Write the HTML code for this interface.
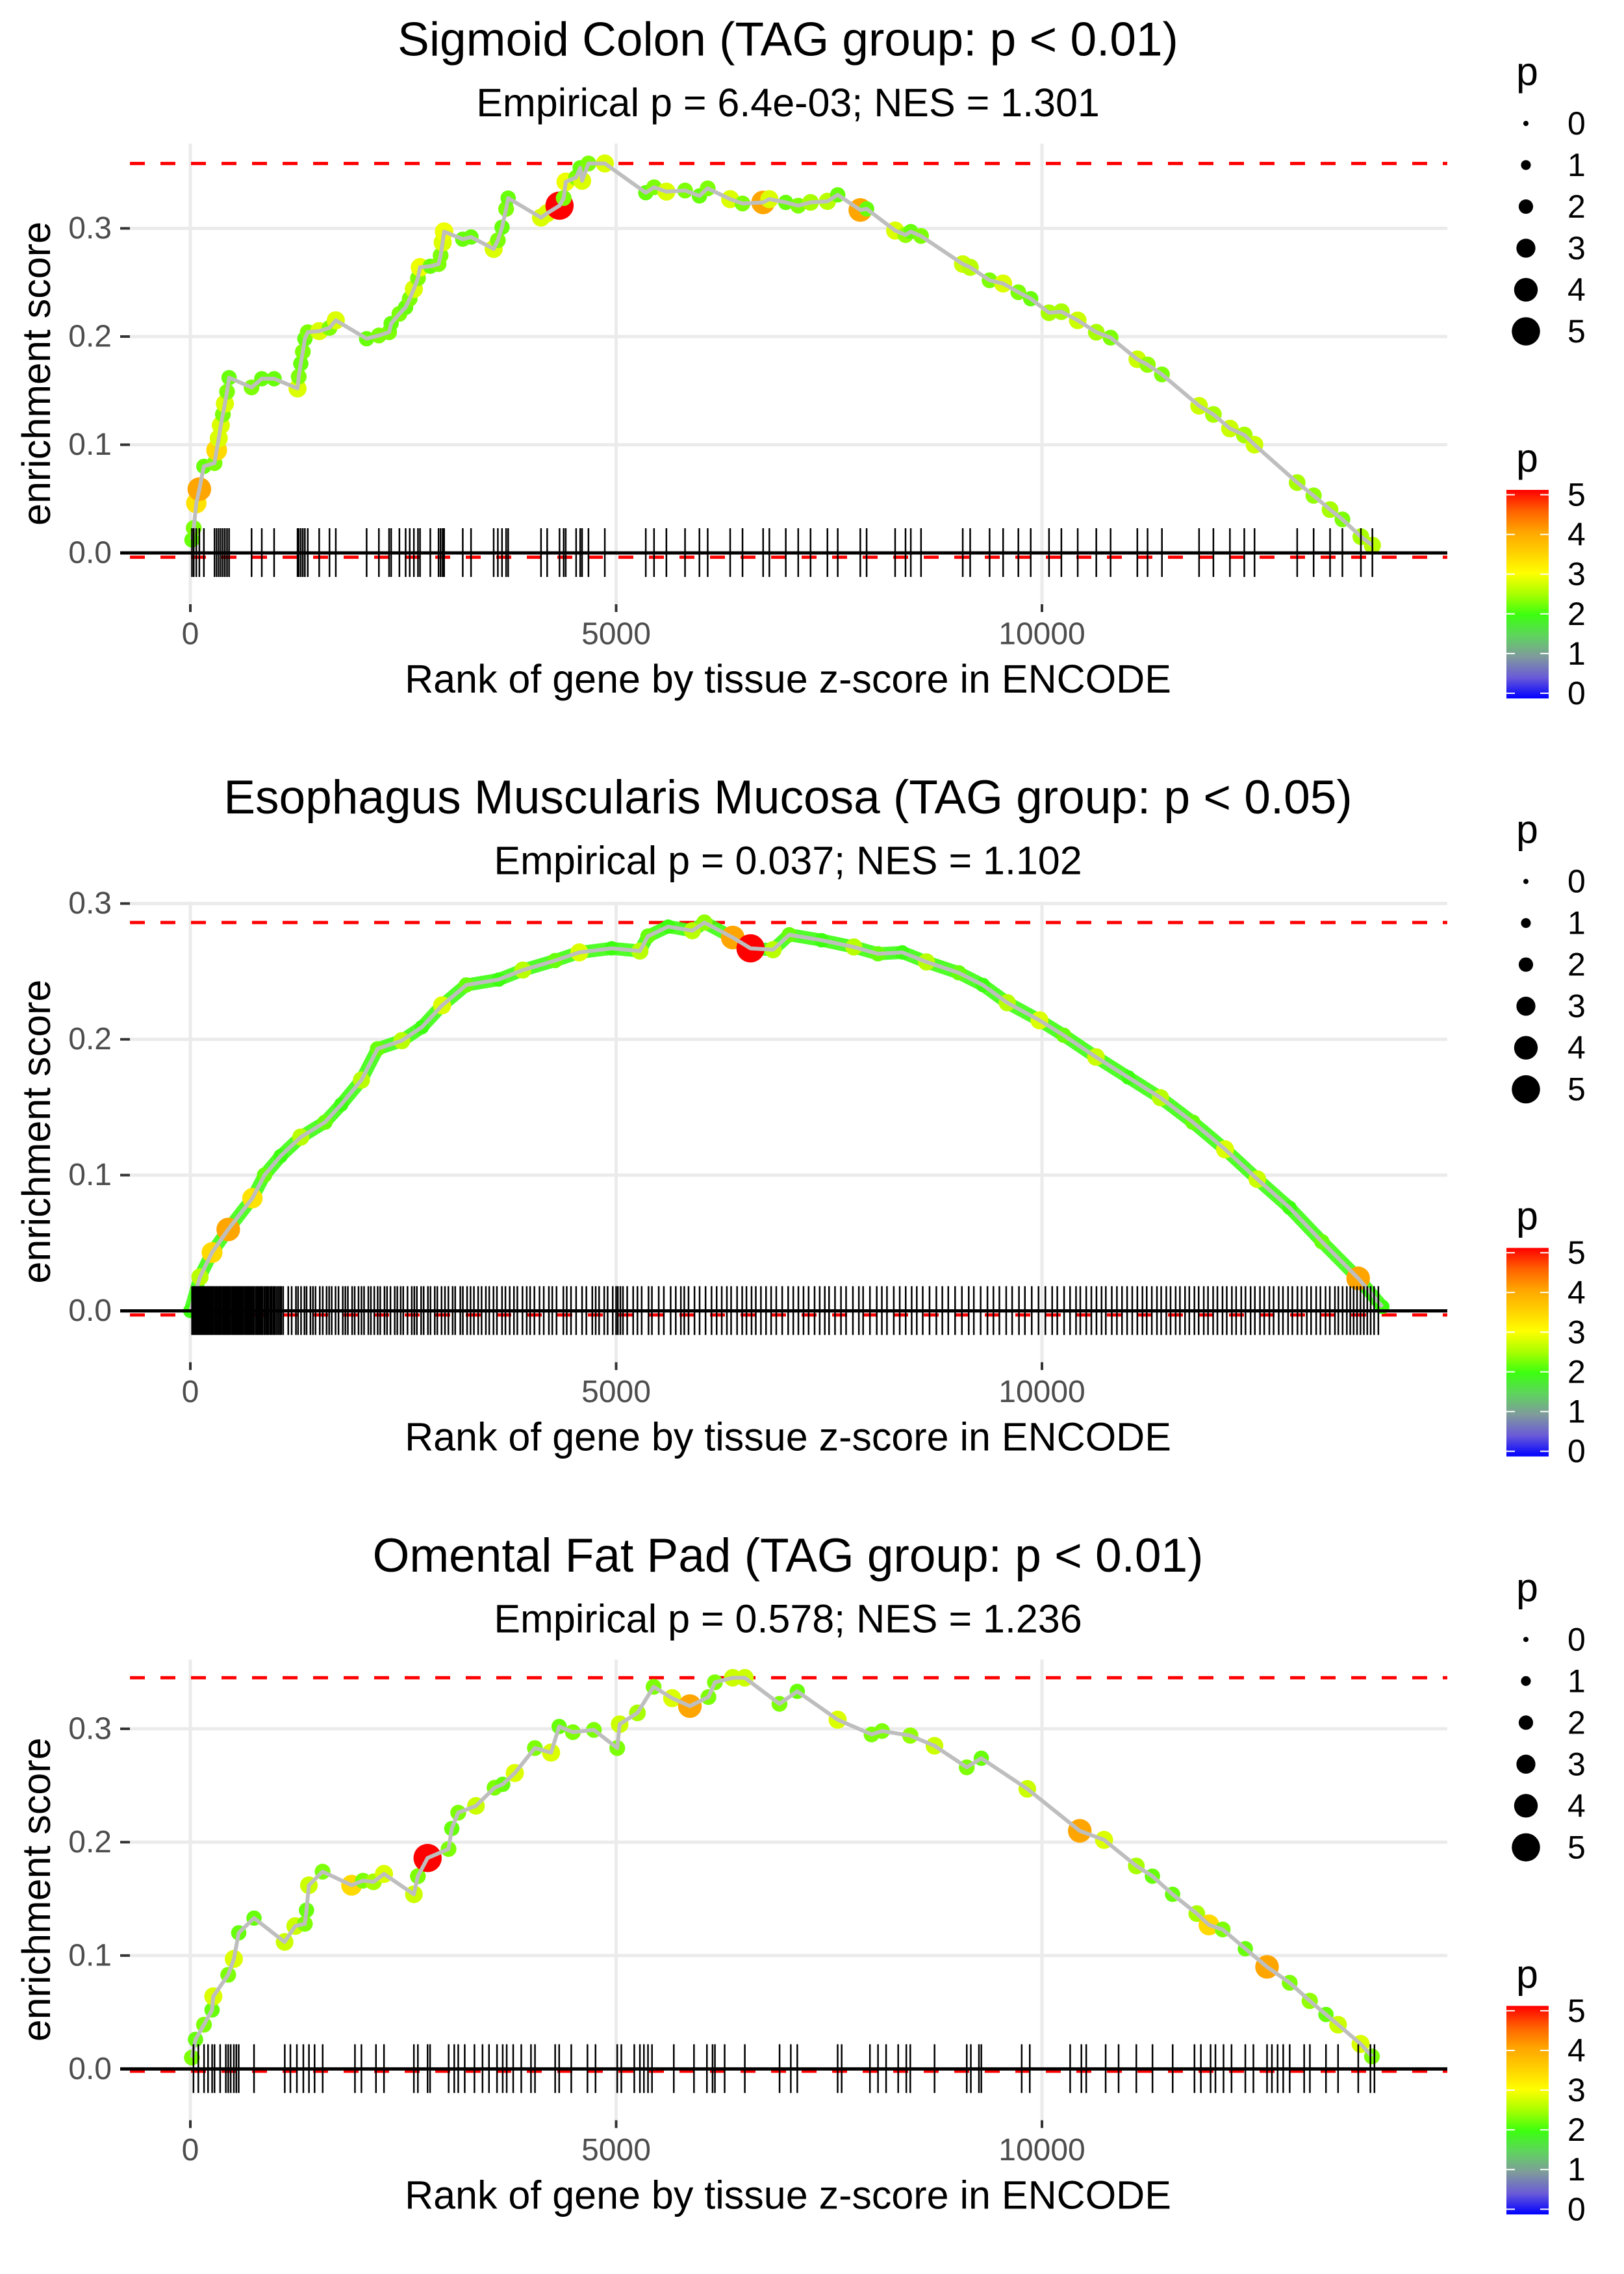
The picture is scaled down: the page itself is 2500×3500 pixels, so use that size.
<!DOCTYPE html>
<html><head><meta charset="utf-8"><title>Enrichment plots</title>
<style>
html,body{margin:0;padding:0;background:#fff;}
svg{display:block;font-family:"Liberation Sans",sans-serif;}
</style></head>
<body>
<svg id="chart" width="2500" height="3500" viewBox="0 0 2500 3500" xmlns="http://www.w3.org/2000/svg">
<defs>
<linearGradient id="pgrad" x1="0" y1="1" x2="0" y2="0">
<stop offset="0" stop-color="#0000ff"/>
<stop offset="0.1" stop-color="#6a5ad8"/>
<stop offset="0.2" stop-color="#7f9a9c"/>
<stop offset="0.3" stop-color="#5fd35f"/>
<stop offset="0.4" stop-color="#3cff10"/>
<stop offset="0.5" stop-color="#a8ff00"/>
<stop offset="0.6" stop-color="#ffff00"/>
<stop offset="0.7" stop-color="#ffd000"/>
<stop offset="0.8" stop-color="#ffa500"/>
<stop offset="0.9" stop-color="#ff6000"/>
<stop offset="1" stop-color="#ff0000"/>
</linearGradient>
</defs>
</svg>
<script>
// ---------- Panel 1 data: Sigmoid Colon ----------
const p1Rank = [19,40,70,106,159,284,309,334,358,382,406,431,455,719,839,984,1259,1273,1297,1321,1345,1379,1513,1634,1708,2070,2214,2334,2358,2455,2528,2576,2625,2673,2697,2818,2915,2939,2963,2980,3199,3296,3562,3611,3660,3708,3732,4118,4190,4335,4384,4408,4530,4578,4600,4675,4867,5348,5445,5590,5809,5978,6075,6339,6484,6726,6799,6992,7138,7283,7481,7602,7867,7941,8276,8398,8460,8580,9070,9157,9385,9544,9723,9868,10083,10228,10420,10638,10806,11120,11240,11409,11845,12013,12207,12376,12496,12997,13190,13383,13528,13745,13880];
const p1ES = [.012,.023,.046,.059,.080,.083,.095,.106,.118,.128,.138,.149,.162,.153,.161,.161,.152,.163,.175,.186,.198,.204,.205,.208,.215,.198,.201,.204,.212,.221,.227,.235,.244,.254,.264,.265,.267,.275,.287,.297,.290,.292,.281,.289,.301,.318,.328,.310,.314,.321,.328,.343,.347,.356,.344,.360,.360,.333,.338,.334,.335,.330,.337,.327,.323,.324,.327,.324,.321,.324,.325,.331,.317,.318,.298,.294,.297,.293,.267,.264,.252,.249,.241,.235,.222,.223,.215,.204,.199,.179,.174,.165,.136,.128,.115,.109,.100,.065,.053,.040,.031,.015,.007];
const p1P = [2.2,2.3,3.3,4.0,2.2,2.3,3.4,2.8,2.8,2.3,2.8,2.3,2.2,2.3,2.2,2.2,2.8,2.3,2.2,2.3,2.2,2.3,2.8,2.3,2.8,2.2,2.3,2.3,2.2,2.3,2.2,2.3,2.8,2.3,2.9,2.2,2.3,2.3,2.8,2.9,2.2,2.2,2.8,2.3,2.2,2.3,2.2,2.8,2.8,5.0,2.3,2.9,2.3,2.2,2.8,2.3,2.8,2.2,2.3,2.8,2.3,2.2,2.3,2.8,2.3,4.0,2.8,2.2,2.3,2.5,2.6,2.2,4.0,2.2,2.8,2.4,2.2,2.3,2.7,2.6,2.3,2.8,2.3,2.2,2.5,2.5,2.7,2.5,2.3,2.7,2.4,2.3,2.7,2.5,2.7,2.5,2.7,2.5,2.4,2.5,2.3,2.5,2.6];
const p1Rug = p1Rank;

// ---------- Panel 2 data: Esophagus Muscularis Mucosa ----------
const p2Rank = [0,113,255,445,729,871,1060,1297,1582,1772,2009,2198,2483,2719,2956,3240,3620,3904,4283,4568,4947,5279,5374,5611,5895,6037,6369,6578,6843,7033,7412,7791,8075,8359,8644,9023,9307,9592,9971,10255,10634,11013,11392,11771,12150,12529,12908,13287,13713,13997];
const p2ES = [0,.025,.043,.060,.083,.100,.114,.128,.139,.152,.170,.193,.199,.209,.225,.240,.244,.251,.258,.264,.267,.265,.276,.283,.280,.286,.275,.267,.266,.277,.273,.268,.263,.264,.257,.249,.240,.227,.214,.203,.187,.172,.157,.139,.119,.097,.076,.051,.024,.003];
const p2P = [2.0,2.6,3.4,4.0,3.3,2.2,2.0,2.6,2.2,2.0,2.6,2.2,2.6,2.0,2.8,2.2,2.0,2.6,2.2,2.8,2.0,2.6,2.2,2.0,2.6,2.4,4.0,5.0,2.6,2.2,2.0,2.6,2.2,2.0,2.6,2.2,2.0,2.6,2.8,2.2,2.7,2.0,2.6,2.2,2.8,2.7,2.0,2.2,4.0,2.0];
const p2Rug = [20,35,48,60,75,88,102,118,130,145,160,172,188,200,215,230,245,258,272,290,305,318,335,350,362,380,395,410,425,440,455,470,488,500,515,532,548,560,575,590,605,622,640,655,670,688,700,718,735,750,770,785,800,818,835,850,870,888,905,920,940,955,975,990,1010,1030,1050,1068,1090,1150,1190,1240,1265,1300,1340,1365,1410,1440,1470,1520,1555,1600,1630,1660,1705,1740,1790,1820,1850,1900,1930,1975,2010,2040,2090,2120,2160,2200,2230,2280,2310,2350,2400,2430,2470,2500,2550,2600,2630,2660,2710,2740,2790,2820,2870,2900,2950,2990,3030,3080,3110,3170,3200,3250,3290,3330,3380,3420,3470,3510,3560,3600,3660,3700,3750,3800,3840,3900,3950,3990,4040,4100,4150,4210,4250,4300,4380,4420,4470,4530,4600,4650,4720,4760,4800,4860,4900,4960,5000,5020,5050,5080,5130,5200,5250,5300,5380,5420,5500,5560,5640,5700,5760,5800,5850,5920,5980,6050,6120,6180,6240,6300,6350,6420,6480,6530,6590,6640,6700,6760,6820,6880,6950,7020,7080,7140,7200,7260,7330,7390,7450,7500,7570,7640,7700,7780,7850,7900,7980,8060,8120,8180,8260,8330,8400,8470,8530,8600,8680,8760,8830,8900,8980,9060,9140,9200,9280,9360,9430,9500,9580,9650,9730,9800,9880,9960,10040,10120,10180,10260,10330,10400,10450,10520,10580,10640,10700,10750,10820,10880,10940,11000,11060,11120,11180,11230,11290,11350,11400,11460,11510,11570,11620,11680,11730,11790,11840,11900,11950,12010,12060,12120,12170,12230,12280,12340,12390,12450,12500,12560,12610,12670,12720,12780,12830,12890,12940,13000,13050,13110,13160,13220,13270,13330,13380,13440,13480,13530,13580,13620,13660,13700,13740,13780,13820,13860,13900,13950];

// ---------- Panel 3 data: Omental Fat Pad ----------
const p3Rank = [18,61,160,255,270,445,511,568,748,1107,1231,1345,1364,1392,1553,1894,2027,2151,2274,2625,2672,2786,3032,3070,3146,3354,3572,3668,3810,4046,4236,4331,4492,4738,5013,5041,5250,5440,5658,5866,6084,6160,6369,6511,6918,7127,7601,7999,8122,8454,8738,9117,9288,9828,10444,10729,11108,11297,11534,11818,11961,12122,12388,12643,12909,13145,13335,13477,13742,13875];
const p3ES = [.010,.026,.039,.052,.064,.083,.097,.120,.133,.112,.126,.128,.140,.162,.174,.162,.166,.165,.172,.154,.170,.186,.194,.212,.226,.232,.248,.251,.261,.283,.279,.302,.297,.299,.283,.304,.314,.337,.327,.320,.328,.341,.345,.345,.322,.333,.308,.295,.298,.294,.285,.266,.274,.247,.210,.202,.179,.170,.154,.137,.127,.123,.106,.090,.076,.060,.048,.039,.022,.011];
const p3P = [2.3,2.2,2.3,2.2,2.8,2.3,2.8,2.2,2.2,2.7,2.7,2.3,2.2,2.7,2.3,3.4,2.3,2.5,2.8,2.7,2.3,5.0,2.3,2.2,2.3,2.7,2.3,2.2,2.8,2.3,2.8,2.2,2.3,2.3,2.3,2.7,2.5,2.3,2.8,4.0,2.3,2.3,2.7,2.7,2.3,2.2,2.8,2.3,2.3,2.4,2.7,2.3,2.2,2.7,4.0,2.8,2.5,2.2,2.2,2.5,3.4,2.3,2.2,4.0,2.3,2.4,2.2,2.7,2.8,2.3];
const p3Rug = [37,94,161,208,256,284,350,417,445,474,511,540,568,748,1109,1175,1251,1327,1393,1459,1554,1933,2009,2180,2274,2625,2672,2786,2815,3033,3099,3146,3222,3336,3431,3507,3601,3668,3715,3791,3886,4000,4047,4284,4331,4473,4663,4758,5013,5061,5213,5279,5326,5374,5421,5677,5914,6066,6132,6160,6274,6511,6919,7051,7127,7601,7648,7980,8075,8170,8312,8407,8454,8739,9117,9165,9260,9288,9762,9857,10331,10463,10520,10748,10900,11108,11298,11535,11791,11866,11980,12037,12132,12226,12388,12483,12643,12700,12767,12833,12909,13079,13146,13335,13477,13714,13857,13904];

const xTicks = [0,5000,10000];
const xTickLabels = ["0","5000","10000"];
const yTicks = [0,0.1,0.2,0.3];
const yTickLabels = ["0.0","0.1","0.2","0.3"];
const legendValues = [0,1,2,3,4,5];

const panels = [
 {title:"Sigmoid Colon (TAG group: p < 0.01)", sub:"Empirical p = 6.4e-03; NES = 1.301", rank:p1Rank, es:p1ES, p:p1P, rug:p1Rug, band:false, minES:-0.004, yPerUnit:1665},
 {title:"Esophagus Muscularis Mucosa (TAG group: p < 0.05)", sub:"Empirical p = 0.037; NES = 1.102", rank:p2Rank, es:p2ES, p:p2P, rug:p2Rug, band:true, minES:-0.003, yPerUnit:2090},
 {title:"Omental Fat Pad (TAG group: p < 0.01)", sub:"Empirical p = 0.578; NES = 1.236", rank:p3Rank, es:p3ES, p:p3P, rug:p3Rug, band:false, minES:-0.002, yPerUnit:1745}
];

const NS="http://www.w3.org/2000/svg";
const svg=document.getElementById('chart');
const PANEL_H=3500/3, PL=200, PR=2228, PT=221, PB=930, Y0=851, CX=1213;
function xs(r){return 293 + r*(1311/10000);}
const cstops=[[0,[0,0,255]],[0.5,[106,90,216]],[1,[127,154,156]],[1.5,[95,211,95]],[2,[60,255,16]],[2.5,[168,255,0]],[3,[255,255,0]],[3.5,[255,208,0]],[4,[255,165,0]],[4.5,[255,96,0]],[5,[255,0,0]]];
function pcol(p){p=Math.max(0,Math.min(5,p));for(let i=0;i<cstops.length-1;i++){const a=cstops[i],b=cstops[i+1];if(p<=b[0]){const t=(p-a[0])/(b[0]-a[0]);const c=a[1].map((v,k)=>Math.round(v+(b[1][k]-v)*t));return `rgb(${c[0]},${c[1]},${c[2]})`;}}return 'red';}
function prad(p){return 4+3.55*p;}
function el(tag,attrs,parent){const e=document.createElementNS(NS,tag);for(const k in attrs)e.setAttribute(k,attrs[k]);(parent||svg).appendChild(e);return e;}
function txt(s,attrs,parent){const e=el('text',attrs,parent);e.textContent=s;return e;}

panels.forEach((P,i)=>{
 const g=el('g',{transform:`translate(0,${i*PANEL_H})`});
 
 
 const ys=v=>Y0 - v*P.yPerUnit;
 const t=txt(P.title,{x:CX,y:61,'font-size':73,'text-anchor':'middle','dominant-baseline':'central',fill:'#000'},g);
 
 
 const st=txt(P.sub,{x:CX,y:158,'font-size':61,'text-anchor':'middle','dominant-baseline':'central',fill:'#000'},g);
 
 
 const grid=el('g',{},g);
 
 
 yTicks.forEach(v=>{el('line',{x1:PL,x2:PR,y1:ys(v),y2:ys(v),stroke:'#ebebeb','stroke-width':5},grid);});
 xTicks.forEach(v=>{el('line',{x1:xs(v),x2:xs(v),y1:PT,y2:PB,stroke:'#ebebeb','stroke-width':5},grid);});
 const yax=el('g',{},g);
 
 
 yTicks.forEach((v,k)=>{
  el('line',{x1:185,x2:200,y1:ys(v),y2:ys(v),stroke:'#333','stroke-width':4},yax);
  const l=txt(yTickLabels[k],{x:172,y:ys(v),'font-size':48,'text-anchor':'end','dominant-baseline':'central',fill:'#4d4d4d'},yax);
  
  
 });
 const yt=txt('enrichment score',{x:0,y:0,'font-size':61,'text-anchor':'middle','dominant-baseline':'central',fill:'#000',transform:`translate(56,575) rotate(-90)`},g);
 
 
 const xax=el('g',{},g);
 
 
 xTicks.forEach((v,k)=>{
  el('line',{x1:xs(v),x2:xs(v),y1:PB,y2:PB+12,stroke:'#333','stroke-width':4},xax);
  const l=txt(xTickLabels[k],{x:xs(v),y:976,'font-size':48,'text-anchor':'middle','dominant-baseline':'central',fill:'#4d4d4d'},xax);
  
  
 });
 const xt=txt('Rank of gene by tissue z-score in ENCODE',{x:CX,y:1045,'font-size':61,'text-anchor':'middle','dominant-baseline':'central',fill:'#000'},g);
 
 
 const maxES=Math.max(...P.es);
 const dl=el('line',{x1:PL,x2:PR,y1:ys(maxES),y2:ys(maxES),stroke:'#ff0000','stroke-width':5,'stroke-dasharray':'23 24'},g);
 
 
 const dl2=el('line',{x1:PL,x2:PR,y1:ys(P.minES),y2:ys(P.minES),stroke:'#ff0000','stroke-width':5,'stroke-dasharray':'23 24'},g);
 
 
 const pts=P.rank.map((r,k)=>xs(r).toFixed(1)+','+ys(P.es[k]).toFixed(1)).join(' ');
 if(P.band){
  const b=el('polyline',{points:pts,fill:'none',stroke:pcol(2.0),'stroke-width':20,'stroke-linejoin':'round','stroke-linecap':'round','stroke-opacity':0.9},g);
  
  
 }
 const dots=el('g',{},g);
 
 
 P.rank.forEach((r,k)=>{
  const c=el('circle',{cx:xs(r),cy:ys(P.es[k]),r:prad(P.p[k]),fill:pcol(P.p[k])},dots);
  
  
 });
 const ln=el('polyline',{points:pts,fill:'none',stroke:'#bebebe','stroke-width':6,'stroke-linejoin':'round'},g);
 
 
 const rug=el('g',{},g);
 
 
 P.rug.forEach(r=>{el('line',{x1:xs(r),x2:xs(r),y1:Y0-38,y2:Y0+37,stroke:'#000','stroke-width':2.5},rug);});
 const zl=el('line',{x1:PL-15,x2:PR,y1:Y0,y2:Y0,stroke:'#000','stroke-width':5},g);
 
 
 const sl=el('g',{},g);
 
 
 txt('p',{x:2334,y:110,'font-size':61,'dominant-baseline':'central',fill:'#000'},sl);
 legendValues.forEach((v,k)=>{
  const yy=190+k*64;
  const e=el('circle',{cx:2349,cy:yy,r:prad(v),fill:'#000'},sl);
  
  
  txt(String(v),{x:2413,y:yy,'font-size':50,'dominant-baseline':'central',fill:'#000'},sl);
 });
 const cl=el('g',{},g);
 
 
 txt('p',{x:2334,y:705,'font-size':61,'dominant-baseline':'central',fill:'#000'},cl);
 const cb=el('rect',{x:2319,y:754,width:65,height:321,fill:'url(#pgrad)'},cl);
 
 
 legendValues.forEach(v=>{
  const yy=1067 - v*61.1;
  el('line',{x1:2319,x2:2332,y1:yy,y2:yy,stroke:'#fff','stroke-width':2},cl);
  el('line',{x1:2371,x2:2384,y1:yy,y2:yy,stroke:'#fff','stroke-width':2},cl);
  txt(String(v),{x:2413,y:yy,'font-size':50,'dominant-baseline':'central',fill:'#000'},cl);
 });
});
</script>
</body></html>
